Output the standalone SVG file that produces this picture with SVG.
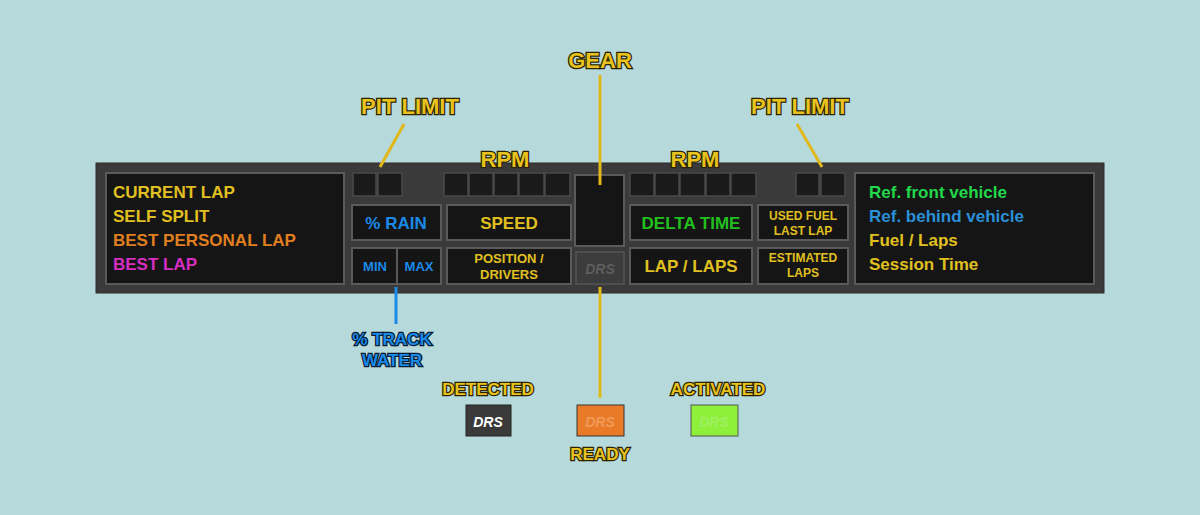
<svg xmlns="http://www.w3.org/2000/svg" width="1200" height="515" viewBox="0 0 1200 515">
<defs>
<style>
.bx{fill:#151515;stroke:#5a5a5a;stroke-width:2}
.sq{fill:#1a1a1a;stroke:#4a4a4a;stroke-width:1.5}
.t{font-family:"Liberation Sans",Arial,sans-serif;font-weight:bold}
.lbl{font-family:"Liberation Sans",Arial,sans-serif;font-weight:bold;fill:#e8c21e;stroke:#2a2200;stroke-width:2.5;paint-order:stroke;text-anchor:middle}
.blu{fill:#1a8ae8;stroke:#0a1a30}
.y{fill:#e0c020}.c{text-anchor:middle}
.ln{stroke:#e0b81a;stroke-width:3;fill:none}
</style>
</defs>
<rect width="1200" height="515" fill="#b6dadb"/>
<g id="panel">
<rect x="96" y="163" width="1008" height="130" fill="#3a3a3a" stroke="#2a2a2a"/>
</g>
<g id="left-box">
<rect class="bx" x="106" y="173" width="238" height="111"/>
<text class="t y" x="113" y="198" font-size="17">CURRENT LAP</text>
<text class="t y" x="113" y="222" font-size="17">SELF SPLIT</text>
<text class="t" x="113" y="246" font-size="17" fill="#e07f20">BEST PERSONAL LAP</text>
<text class="t" x="113" y="270" font-size="17" fill="#d72ec2">BEST LAP</text>
</g>
<g id="pit-left"><rect class="sq" x="353" y="173" width="23" height="23"/><rect class="sq" x="378" y="173" width="24" height="23"/></g>
<g id="rain"><rect class="bx" x="352" y="205" width="89" height="35"/><text class="t c" x="396" y="229" font-size="17" fill="#1a8ae8">% RAIN</text></g>
<g id="min"><rect class="bx" x="352" y="248" width="45" height="36"/><text class="t c" x="375" y="271" font-size="13" fill="#1a8ae8">MIN</text></g>
<g id="max"><rect class="bx" x="397" y="248" width="44" height="36"/><text class="t c" x="419" y="271" font-size="13" fill="#1a8ae8">MAX</text></g>
<g id="rpm-left"><rect class="sq" x="444" y="173" width="24" height="23"/><rect class="sq" x="469" y="173" width="24" height="23"/><rect class="sq" x="494" y="173" width="24" height="23"/><rect class="sq" x="519" y="173" width="25" height="23"/><rect class="sq" x="545" y="173" width="25" height="23"/></g>
<g id="speed"><rect class="bx" x="447" y="205" width="124" height="35"/><text class="t c y" x="509" y="229" font-size="17">SPEED</text></g>
<g id="position"><rect class="bx" x="447" y="248" width="124" height="36"/><text class="t c y" x="509" y="263" font-size="13">POSITION /</text><text class="t c y" x="509" y="279" font-size="13">DRIVERS</text></g>
<g id="gear-box"><rect class="bx" x="575" y="175" width="49" height="71"/></g>
<g id="drs-panel"><rect x="576" y="252" width="48" height="32" fill="#3c3c3c" stroke="#555" stroke-width="1.5"/><text class="t c" x="600" y="274" font-size="14" font-style="italic" fill="#5e5e5e">DRS</text></g>
<g id="rpm-right"><rect class="sq" x="630" y="173" width="24" height="23"/><rect class="sq" x="655" y="173" width="24" height="23"/><rect class="sq" x="680" y="173" width="25" height="23"/><rect class="sq" x="706" y="173" width="24" height="23"/><rect class="sq" x="731" y="173" width="25" height="23"/></g>
<g id="delta"><rect class="bx" x="630" y="205" width="122" height="35"/><text class="t c" x="691" y="229" font-size="17" fill="#22c01e">DELTA TIME</text></g>
<g id="laps"><rect class="bx" x="630" y="248" width="122" height="36"/><text class="t c y" x="691" y="272" font-size="17">LAP / LAPS</text></g>
<g id="used-fuel"><rect class="bx" x="758" y="205" width="90" height="35"/><text class="t c y" x="803" y="220" font-size="12">USED FUEL</text><text class="t c y" x="803" y="235" font-size="12">LAST LAP</text></g>
<g id="est-laps"><rect class="bx" x="758" y="248" width="90" height="36"/><text class="t c y" x="803" y="262" font-size="12">ESTIMATED</text><text class="t c y" x="803" y="277" font-size="12">LAPS</text></g>
<g id="pit-right"><rect class="sq" x="796" y="173" width="23" height="23"/><rect class="sq" x="821" y="173" width="24" height="23"/></g>
<g id="right-box">
<rect class="bx" x="855" y="173" width="239" height="111"/>
<text class="t" x="869" y="198" font-size="17" fill="#22d84a">Ref. front vehicle</text>
<text class="t" x="869" y="222" font-size="17" fill="#2a90d8">Ref. behind vehicle</text>
<text class="t y" x="869" y="246" font-size="17">Fuel / Laps</text>
<text class="t y" x="869" y="270" font-size="17">Session Time</text>
</g>
<g id="connectors">
<line class="ln" x1="600" y1="75" x2="600" y2="185"/>
<line class="ln" x1="600" y1="287" x2="600" y2="398"/>
<line class="ln" x1="404" y1="124" x2="380" y2="167"/>
<line class="ln" x1="797" y1="124" x2="822" y2="167"/>
<line x1="396" y1="287" x2="396" y2="324" stroke="#1a8ae8" stroke-width="3"/>
</g>
<g id="labels">
<text class="lbl" x="600" y="68" font-size="22">GEAR</text>
<text class="lbl" x="410" y="114" font-size="22">PIT LIMIT</text>
<text class="lbl" x="800" y="114" font-size="22">PIT LIMIT</text>
<text class="lbl" x="505" y="167" font-size="22">RPM</text>
<text class="lbl" x="695" y="167" font-size="22">RPM</text>
<text class="lbl blu" x="392" y="345" font-size="17">% TRACK</text>
<text class="lbl blu" x="392" y="366" font-size="17">WATER</text>
<text class="lbl" x="488" y="395" font-size="17">DETECTED</text>
<text class="lbl" x="718" y="395" font-size="17">ACTIVATED</text>
<text class="lbl" x="600" y="460" font-size="17">READY</text>
</g>
<g id="drs-detected"><rect x="466" y="405" width="45" height="31" fill="#3a3a3a" stroke="#222"/><text class="t c" x="488" y="427" font-size="14" font-style="italic" fill="#fff">DRS</text></g>
<g id="drs-ready"><rect x="577" y="405" width="47" height="31" fill="#e87a28" stroke="#333"/><text class="t c" x="600" y="427" font-size="14" font-style="italic" fill="#f09a58">DRS</text></g>
<g id="drs-activated"><rect x="691" y="405" width="47" height="31" fill="#8ef03a" stroke="#555"/><text class="t c" x="714" y="427" font-size="14" font-style="italic" fill="#9ef060">DRS</text></g>
</svg>
